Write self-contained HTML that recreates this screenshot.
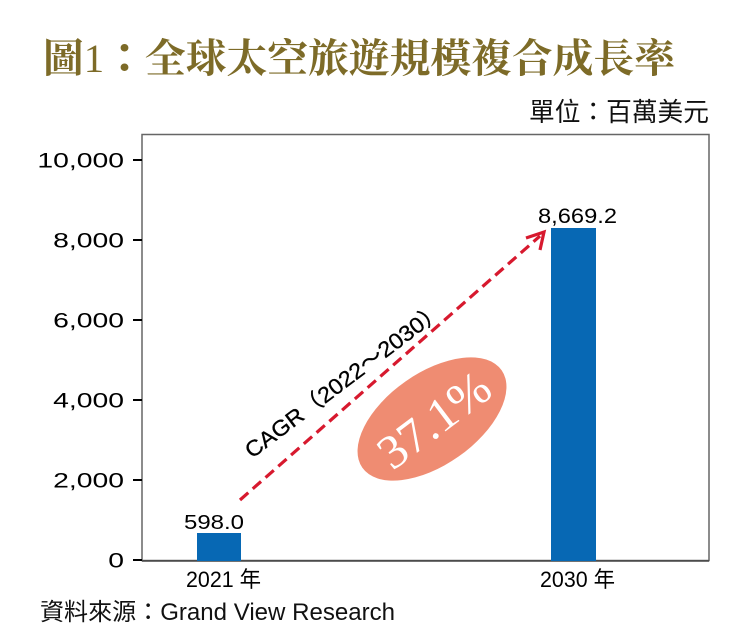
<!DOCTYPE html>
<html>
<head>
<meta charset="utf-8">
<style>
  html, body { margin: 0; padding: 0; background: #ffffff; }
  body { width: 735px; height: 644px; overflow: hidden; }
  svg { display: block; }
</style>
</head>
<body>
<svg width="735" height="644" viewBox="0 0 735 644" xmlns="http://www.w3.org/2000/svg">
  <rect x="0" y="0" width="735" height="644" fill="#ffffff"/>

  <!-- Title -->
  <text x="43" y="72" font-family="'Liberation Serif', 'Noto Serif CJK SC', serif" font-size="40" font-weight="bold" fill="#7d6b28" textLength="632" lengthAdjust="spacingAndGlyphs">圖<tspan font-weight="normal">1</tspan><tspan font-family="'Noto Sans CJK TC', sans-serif">：</tspan>全球太空旅遊規模複合成長率</text>

  <!-- Unit -->
  <text x="529" y="121" font-family="'Liberation Sans', 'Noto Sans CJK TC', sans-serif" font-size="26" fill="#111" textLength="180" lengthAdjust="spacingAndGlyphs">單位：百萬美元</text>

  <!-- Plot frame -->
  <rect x="142" y="134.5" width="567" height="426" fill="none" stroke="#666" stroke-width="1.5"/>
  <line x1="142" y1="561" x2="709" y2="561" stroke="#444" stroke-width="1.5"/>

  <!-- Ticks -->
  <g stroke="#000" stroke-width="2">
    <line x1="133" y1="160" x2="142" y2="160"/>
    <line x1="133" y1="240" x2="142" y2="240"/>
    <line x1="133" y1="320" x2="142" y2="320"/>
    <line x1="133" y1="400" x2="142" y2="400"/>
    <line x1="133" y1="480" x2="142" y2="480"/>
    <line x1="133" y1="560" x2="142" y2="560"/>
  </g>

  <!-- Y labels -->
  <g font-family="'Liberation Sans', sans-serif" font-size="21" fill="#000" text-anchor="end">
    <text transform="translate(124,167.5) scale(1.35,1)">10,000</text>
    <text transform="translate(124,247.5) scale(1.35,1)">8,000</text>
    <text transform="translate(124,327.5) scale(1.35,1)">6,000</text>
    <text transform="translate(124,407.5) scale(1.35,1)">4,000</text>
    <text transform="translate(124,487.5) scale(1.35,1)">2,000</text>
    <text transform="translate(124,567.5) scale(1.35,1)">0</text>
  </g>

  <!-- Bars -->
  <rect x="197" y="533" width="44" height="28" fill="#0768b4"/>
  <rect x="551" y="228" width="45" height="333" fill="#0768b4"/>

  <!-- Value labels -->
  <text x="184" y="529" font-family="'Liberation Sans', sans-serif" font-size="20" fill="#000" textLength="60" lengthAdjust="spacingAndGlyphs">598.0</text>
  <text x="538" y="223" font-family="'Liberation Sans', sans-serif" font-size="21" fill="#000" textLength="79" lengthAdjust="spacingAndGlyphs">8,669.2</text>

  <!-- X labels -->
  <text x="186" y="587" font-family="'Liberation Sans', 'Noto Sans CJK TC', sans-serif" font-size="22" fill="#000" textLength="75" lengthAdjust="spacingAndGlyphs">2021 年</text>
  <text x="540" y="587" font-family="'Liberation Sans', 'Noto Sans CJK TC', sans-serif" font-size="22" fill="#000" textLength="75" lengthAdjust="spacingAndGlyphs">2030 年</text>

  <!-- Dashed arrow -->
  <line x1="240" y1="500" x2="540" y2="236" stroke="#d7192e" stroke-width="3.2" stroke-dasharray="11 6"/>
  <polyline points="526,238 544,232 540,250" fill="none" stroke="#d7192e" stroke-width="3.2"/>

  <!-- CAGR label -->
  <text transform="translate(252,459) rotate(-37)" font-family="'Liberation Sans', 'Noto Sans CJK TC', sans-serif" font-size="22" fill="#000" stroke="#000" stroke-width="0.3" textLength="242" lengthAdjust="spacingAndGlyphs">CAGR（2022～2030）</text>

  <!-- Ellipse with rate -->
  <ellipse cx="432" cy="419" rx="85" ry="46" transform="rotate(-35 432 419)" fill="#ef8c72"/>
  <text transform="translate(434,420) rotate(-37)" x="0" y="16" font-family="'Liberation Serif', serif" font-size="48" fill="#ffffff" text-anchor="middle" textLength="128" lengthAdjust="spacingAndGlyphs">37.1%</text>

  <!-- Source -->
  <text x="40" y="620" font-family="'Liberation Sans', 'Noto Sans CJK TC', sans-serif" font-size="24" fill="#111" textLength="355" lengthAdjust="spacingAndGlyphs">資料來源：Grand View Research</text>
</svg>
</body>
</html>
